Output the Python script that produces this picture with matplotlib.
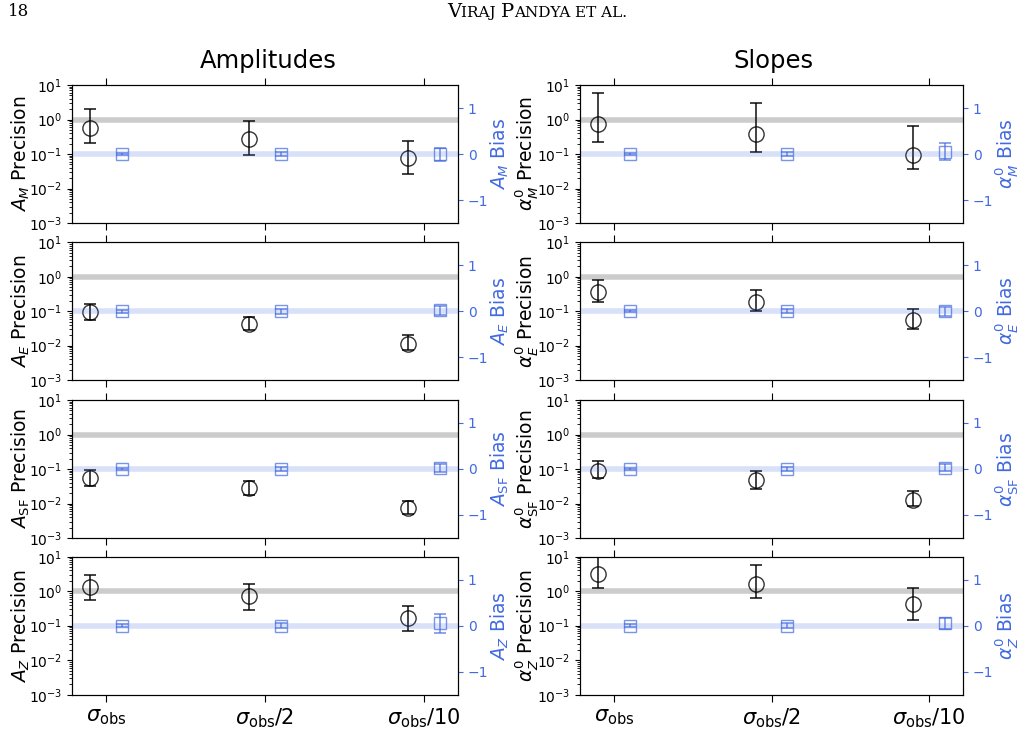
import numpy as np
import matplotlib
matplotlib.use("Agg")
import matplotlib.pyplot as plt

# noise levels on the x axis
noise_labels = [r"$\sigma_{\rm obs}$", r"$\sigma_{\rm obs}/2$", r"$\sigma_{\rm obs}/10$"]

# parameter names (rows), left column = amplitudes, right column = slopes
amp_names = [r"A_M", r"A_E", r"A_{\rm SF}", r"A_Z"]
slope_names = [r"\alpha^0_M", r"\alpha^0_E", r"\alpha^0_{\rm SF}", r"\alpha^0_Z"]

# precision: median, lower and upper end of the error bar
amp_prec = [[0.55, 0.27, 0.075], [0.093, 0.044, 0.0115], [0.055, 0.028, 0.0074], [1.35, 0.72, 0.165]]
amp_prec_lo = [[0.21, 0.093, 0.026], [0.055, 0.028, 0.0076], [0.032, 0.018, 0.005], [0.55, 0.29, 0.072]]
amp_prec_hi = [[2.0, 0.92, 0.24], [0.158, 0.066, 0.021], [0.093, 0.045, 0.0118], [3.0, 1.6, 0.37]]

slope_prec = [[0.72, 0.37, 0.091], [0.35, 0.18, 0.055], [0.087, 0.048, 0.0126], [3.1, 1.6, 0.42]]
slope_prec_lo = [[0.23, 0.117, 0.036], [0.18, 0.10, 0.03], [0.055, 0.026, 0.0085], [1.26, 0.62, 0.15]]
slope_prec_hi = [[6.0, 3.0, 0.66], [0.79, 0.41, 0.115], [0.17, 0.087, 0.023], [12.0, 5.6, 1.25]]

# bias: value and symmetric error
amp_bias = [[0.0, 0.0, -0.01], [0.0, 0.0, 0.02], [0.0, 0.0, 0.02], [0.0, 0.0, 0.05]]
amp_bias_err = [[0.02, 0.04, 0.14], [0.03, 0.05, 0.1], [0.02, 0.04, 0.08], [0.03, 0.05, 0.2]]
slope_bias = [[0.0, 0.0, 0.05], [0.0, 0.0, 0.0], [0.0, 0.0, 0.03], [0.0, 0.0, 0.05]]
slope_bias_err = [[0.03, 0.04, 0.18], [0.02, 0.04, 0.1], [0.02, 0.04, 0.08], [0.03, 0.05, 0.12]]

# running head pieces (text, size) to fake small caps
header_parts = [("V", 14), ("IRAJ ", 11), ("P", 14), ("ANDYA ", 11), ("ET AL.", 11)]

blue = "royalblue"

fig = plt.figure(figsize=(10.25, 7.49), dpi=100)
W, H = 1025, 749

fig.text(8 / W, 1 - 12 / H, "18", family="DejaVu Serif", fontsize=12, va="center", ha="left")

# small caps header, laid out piece by piece and centred
renderer = fig.canvas.get_renderer()
pieces = []
xpos = 0.0
for s, size in header_parts:
    t = fig.text(0, 1 - 17 / H, s, family="DejaVu Serif", fontsize=size, va="baseline", ha="left")
    w = t.get_window_extent(renderer).width
    pieces.append((t, xpos))
    xpos += w
start = (537 - xpos / 2) / W
for t, off in pieces:
    t.set_x(start + off / W)

fig.text(268 / W, 1 - 61 / H, "Amplitudes", fontsize=17.5, ha="center", va="center")
fig.text(773 / W, 1 - 61 / H, "Slopes", fontsize=17.5, ha="center", va="center")

col_left = [72 / W, 580 / W]
col_width = [386 / W, 383 / W]
row_top = [85, 242.2, 400, 556.7]
h = 138

x = np.arange(3)

columns = [
    (amp_names, amp_prec, amp_prec_lo, amp_prec_hi, amp_bias, amp_bias_err),
    (slope_names, slope_prec, slope_prec_lo, slope_prec_hi, slope_bias, slope_bias_err),
]

for c, (names, prec, lo, hi, bias, berr) in enumerate(columns):
    for r in range(4):
        ax = fig.add_axes([col_left[c], 1 - (row_top[r] + h) / H, col_width[c], h / H])
        p = np.array(prec[r])
        yerr = [p - np.array(lo[r]), np.array(hi[r]) - p]
        ax.axhline(1.0, color="grey", alpha=0.4, lw=4, zorder=1)
        ax.errorbar(x - 0.1, p, yerr=yerr, fmt="o", mfc="none", mec="k", ecolor="k",
                    color="k", ms=11, capsize=4, elinewidth=1.3, capthick=1.3, alpha=0.8, zorder=3)
        ax.set_yscale("log")
        ax.set_ylim(1e-3, 1e1)
        ax.set_xlim(-0.215, 2.215)
        ax.set_xticks(x)
        if r == 3:
            ax.set_xticklabels(noise_labels, fontsize=15)
        else:
            ax.set_xticklabels([])
        ax.tick_params(axis="x", top=True, direction="out", length=5)
        ax.tick_params(axis="y", labelsize=10)
        ax.set_ylabel("$" + names[r] + "$ Precision", fontsize=13.5, labelpad=-2)

        ax2 = ax.twinx()
        ax2.axhline(0.0, color=blue, alpha=0.2, lw=4, zorder=1)
        ax2.errorbar(x + 0.1, bias[r], yerr=berr[r], fmt="s", mfc="none", mec=blue, ecolor=blue,
                     ms=9, capsize=4, elinewidth=1.2, capthick=1.2, alpha=0.7, zorder=3)
        ax2.set_ylim(-1.5, 1.5)
        ax2.set_yticks([-1, 0, 1])
        ax2.tick_params(axis="y", colors=blue, labelsize=10)
        ax2.set_ylabel("$" + names[r] + "$ Bias", color=blue, fontsize=13.5, labelpad=0)

fig.savefig("out.png", dpi=100)
